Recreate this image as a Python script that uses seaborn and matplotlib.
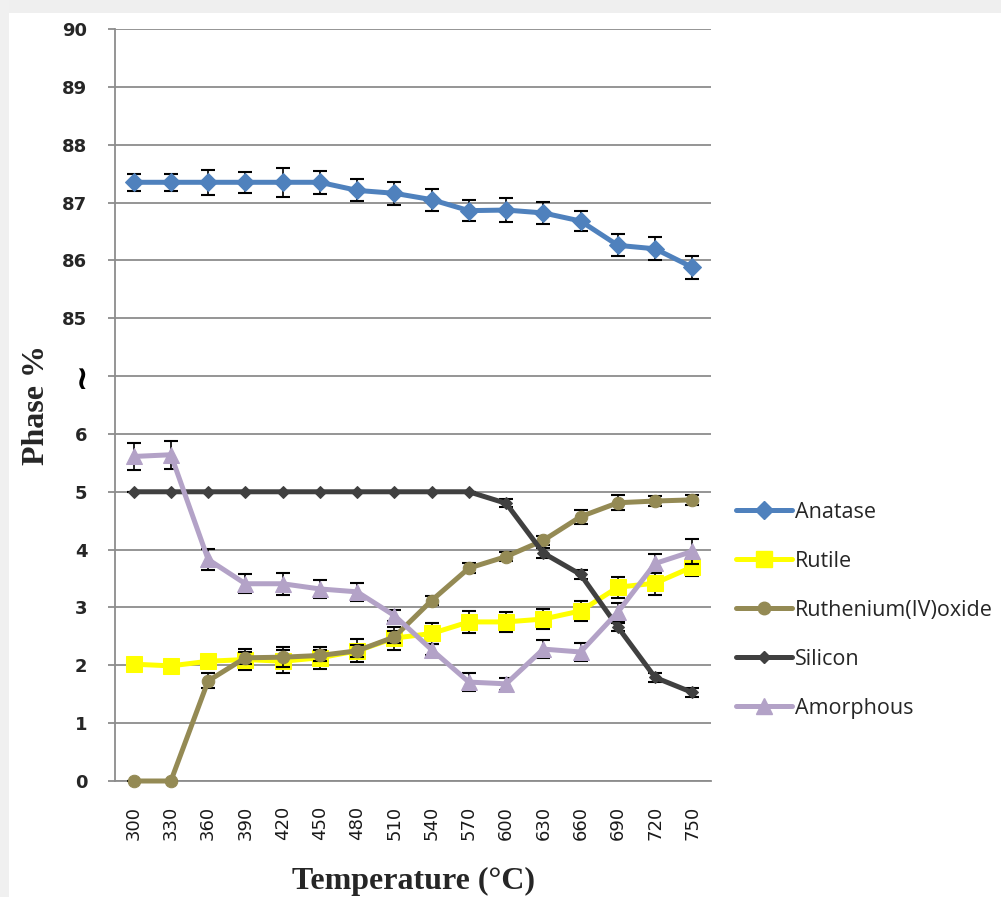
import numpy as np
import pandas as pd
import matplotlib
matplotlib.use("Agg")
import matplotlib.pyplot as plt
from matplotlib.patches import Rectangle
from matplotlib.lines import Line2D
import seaborn as sns

# ---------------- data ----------------
temperatures = [300, 330, 360, 390, 420, 450, 480, 510, 540, 570, 600, 630, 660, 690, 720, 750]

anatase = [87.35, 87.35, 87.35, 87.35, 87.35, 87.35, 87.21, 87.16, 87.05, 86.86,
           86.87, 86.82, 86.68, 86.26, 86.20, 85.88]
anatase_err = [0.15, 0.15, 0.22, 0.18, 0.25, 0.20, 0.19, 0.20, 0.19, 0.18,
               0.20, 0.19, 0.17, 0.19, 0.20, 0.20]

rutile = [2.02, 1.99, 2.07, 2.10, 2.07, 2.13, 2.25, 2.47, 2.55, 2.75,
          2.75, 2.80, 2.94, 3.35, 3.42, 3.70]
rutile_err = [0.10, 0.10, 0.10, 0.18, 0.20, 0.19, 0.20, 0.20, 0.18, 0.19,
              0.18, 0.18, 0.18, 0.18, 0.20, 0.16]

ruthenium = [0.00, 0.00, 1.73, 2.13, 2.14, 2.17, 2.25, 2.49, 3.12, 3.68,
             3.88, 4.16, 4.57, 4.81, 4.84, 4.86]
ruthenium_err = [0.00, 0.00, 0.13, 0.10, 0.17, 0.10, 0.10, 0.10, 0.08, 0.08,
                 0.08, 0.08, 0.12, 0.13, 0.09, 0.09]

silicon = [5.00, 5.00, 5.00, 5.00, 5.00, 5.00, 5.00, 5.00, 5.00, 5.00,
           4.80, 3.94, 3.57, 2.66, 1.79, 1.53]
silicon_err = [0.00, 0.00, 0.00, 0.00, 0.00, 0.00, 0.00, 0.00, 0.00, 0.00,
               0.07, 0.08, 0.08, 0.07, 0.07, 0.07]

amorphous = [5.61, 5.64, 3.83, 3.41, 3.41, 3.32, 3.27, 2.86, 2.27, 1.71,
             1.68, 2.28, 2.23, 2.92, 3.76, 3.97]
amorphous_err = [0.23, 0.24, 0.18, 0.16, 0.19, 0.15, 0.15, 0.10, 0.10, 0.16,
                 0.10, 0.15, 0.16, 0.16, 0.16, 0.22]

series_names = ["Anatase", "Rutile", "Ruthenium(IV)oxide", "Silicon", "Amorphous"]
y_tick_labels = ["0", "1", "2", "3", "4", "5", "6", "\u2240", "85", "86", "87", "88", "89", "90"]

# broken axis: the upper part (85-90) is shifted down to sit above 6 and the break mark
BREAK_SHIFT = 77

# ---------------- styling ----------------
colors = {"Anatase": "#4F81BD", "Rutile": "#FFFF00", "Ruthenium(IV)oxide": "#948A54",
          "Silicon": "#404040", "Amorphous": "#B3A2C7"}
markers = {"Anatase": "D", "Rutile": "s", "Ruthenium(IV)oxide": "o",
           "Silicon": "D", "Amorphous": "^"}
msizes = {"Anatase": 9, "Rutile": 12, "Ruthenium(IV)oxide": 9,
          "Silicon": 6, "Amorphous": 11}

values = {"Anatase": anatase, "Rutile": rutile, "Ruthenium(IV)oxide": ruthenium,
          "Silicon": silicon, "Amorphous": amorphous}
errors = {"Anatase": anatase_err, "Rutile": rutile_err, "Ruthenium(IV)oxide": ruthenium_err,
          "Silicon": silicon_err, "Amorphous": amorphous_err}

sns.set_theme(style="white")
plt.rcParams["font.family"] = ["DejaVu Sans"]

W, H = 1001, 897
fig = plt.figure(figsize=(W / 100, H / 100), dpi=100)
fig.patch.set_facecolor("white")
# light grey frame strips of the screenshot
fig.patches.append(Rectangle((0, 1 - 13 / H), 1, 13 / H, transform=fig.transFigure,
                             facecolor="#efefef", edgecolor="none", zorder=0))
fig.patches.append(Rectangle((0, 0), 9 / W, 1, transform=fig.transFigure,
                             facecolor="#f0f0f0", edgecolor="none", zorder=0))

ax_left, ax_right, ax_top, ax_bottom = 115, 711, 29, 781
ax = fig.add_axes([ax_left / W, 1 - ax_bottom / H, (ax_right - ax_left) / W, (ax_bottom - ax_top) / H])
ax.set_facecolor("white")

x_pos = np.arange(len(temperatures))
rows = []
for name in series_names:
    shift = BREAK_SHIFT if name == "Anatase" else 0
    for i, (v, e) in enumerate(zip(values[name], errors[name])):
        rows.append({"pos": i, "temp": temperatures[i], "series": name,
                     "y": v - shift, "err": e})
df = pd.DataFrame(rows)

z = 3
for name in series_names:
    d = df[df["series"] == name]
    ax.errorbar(d["pos"], d["y"], yerr=d["err"], fmt="none", ecolor="black",
                elinewidth=1.2, capsize=4.8, capthick=1.5, zorder=z)
    sns.lineplot(data=d, x="pos", y="y", ax=ax, color=colors[name], marker=markers[name],
                 markersize=msizes[name], markeredgecolor=colors[name], linewidth=3.6,
                 legend=False, zorder=z + 1, estimator=None, sort=False, clip_on=False)
    z += 2

ax.set_xlim(-0.5, len(temperatures) - 0.5)
ax.set_ylim(0, 13)
ax.set_yticks(np.arange(14))
ax.set_yticklabels(y_tick_labels)
ax.set_xticks(x_pos)
ax.set_xticklabels([str(t) for t in temperatures], rotation=90)

for lbl in ax.get_yticklabels():
    lbl.set_fontsize(13)
    lbl.set_fontweight("bold")
    lbl.set_color("#262626")
for lbl in ax.get_xticklabels():
    lbl.set_fontsize(13)
    lbl.set_color("#1a1a1a")
brk = ax.get_yticklabels()[7]
brk.set_fontweight("bold")
brk.set_fontsize(24)
brk.set_color("black")

ax.yaxis.grid(True, color="#8c8c8c", linewidth=1.3)
ax.xaxis.grid(False)
ax.set_axisbelow(True)
for s in ["top", "right"]:
    ax.spines[s].set_visible(False)
for s in ["left", "bottom"]:
    ax.spines[s].set_color("#8c8c8c")
    ax.spines[s].set_linewidth(1.3)
ax.tick_params(axis="y", which="both", left=True, length=5, width=1.3, color="#8c8c8c", pad=15)
ax.tick_params(axis="x", which="both", bottom=False, pad=12)

ax.set_xlabel("Temperature (\u00b0C)", fontsize=23, fontweight="bold",
              family="Liberation Serif", labelpad=19)
ax.set_ylabel("Phase %", fontsize=23, fontweight="bold", family="Liberation Serif", labelpad=8)

handles = [Line2D([0], [0], color=colors[n], marker=markers[n], markersize=msizes[n],
                  markeredgecolor=colors[n], linewidth=3.6) for n in series_names]
fig.legend(handles, series_names, loc="upper left", bbox_to_anchor=(725 / W, 1 - 491 / H),
           frameon=False, prop={"family": "Open Sans", "size": 15.5},
           handlelength=2.6, handletextpad=0.15, labelspacing=1.3, borderpad=0)

fig.savefig("out.png", dpi=100, facecolor="white")
